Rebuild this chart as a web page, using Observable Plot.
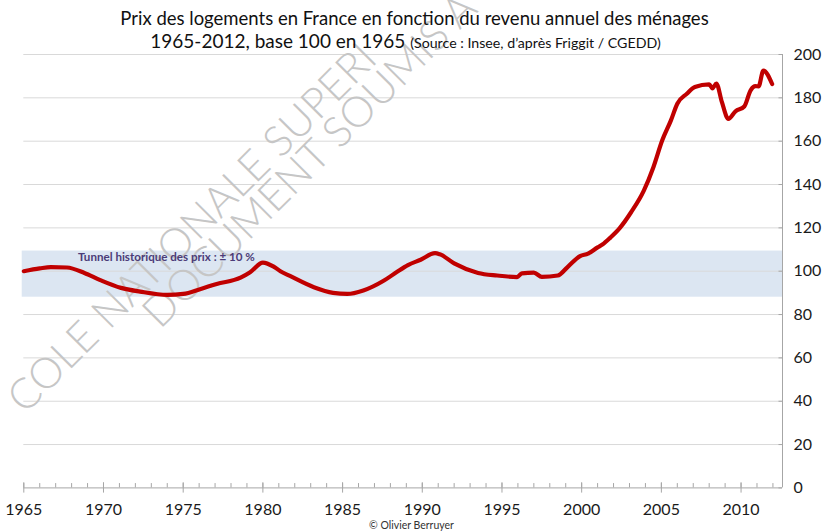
<!DOCTYPE html>
<html><head><meta charset="utf-8">
<script src="https://cdn.jsdelivr.net/npm/d3@7"></script>
<script src="https://cdn.jsdelivr.net/npm/@observablehq/plot@0.6"></script>
<style>
body{margin:0;background:#fff;}
#wrap{position:relative;width:823px;height:532px;overflow:hidden;font-family:Lato,"Open Sans",sans-serif;}
#title{position:absolute;left:0;top:0;width:823px;text-align:center;color:#111;z-index:2;pointer-events:none;}
#t1{position:absolute;top:6px;left:3px;width:100%;font-size:18.5px;line-height:24px;white-space:nowrap;}
#t2{position:absolute;top:29px;left:-6px;width:100%;font-size:19px;line-height:24px;white-space:nowrap;}
#t2 .src{font-size:14.2px;}
#chart{position:absolute;left:0;top:0;}
#caption{position:absolute;top:519.5px;left:0;width:823px;text-align:center;font-size:10.5px;line-height:11px;color:#333;z-index:2;}
</style></head>
<body>
<div id="wrap">
  <div id="chart"></div>
  <div id="title">
    <div id="t1">Prix des logements en France en fonction du revenu annuel des ménages</div>
    <div id="t2">1965-2012, base 100 en 1965 <span class="src">(Source : Insee, d’après Friggit / CGEDD)</span></div>
  </div>
  <div id="caption">© Olivier Berruyer</div>
</div>
<script>
// ---- data ----
const years = [1965.0, 1966.0, 1966.7, 1967.7, 1968.8, 1969.8, 1971.1, 1972.3, 1974.0, 1975.0,
  1976.1, 1977.1, 1978.6, 1979.2, 1980.0, 1980.7, 1981.1, 1981.7, 1983.2, 1984.4,
  1985.3, 1986.3, 1987.6, 1988.4, 1989.1, 1989.9, 1990.8, 1991.1, 1992.0, 1993.5,
  1994.7, 1995.95, 1996.25, 1997.0, 1997.5, 1998.5, 1999.1, 1999.9, 2000.4, 2001.0,
  2001.3, 2001.8, 2002.4, 2003.1, 2003.9, 2004.5, 2005.05, 2005.6, 2006.0, 2006.6,
  2007.1, 2008.0, 2008.2, 2008.45, 2008.8, 2009.2, 2009.65, 2010.2, 2010.6, 2010.9,
  2011.1, 2011.4, 2011.95];
const values = [100.0, 101.3, 101.9, 101.7, 99.2, 95.9, 92.3, 90.6, 89.1, 89.5,
  91.8, 94.1, 97.0, 99.5, 104.0, 102.0, 100.0, 97.8, 92.6, 90.0,
  89.5, 91.1, 95.7, 99.6, 102.8, 105.3, 108.3, 107.8, 103.6, 99.2,
  98.0, 97.3, 99.0, 99.3, 97.4, 98.0, 101.8, 107.0, 108.1, 111.0,
  112.3, 115.5, 120.0, 127.2, 137.2, 148.0, 160.3, 169.6, 177.3, 181.9,
  185.0, 186.2, 184.4, 186.6, 178.0, 170.3, 173.8, 176.0, 183.5, 185.4,
  185.3, 192.6, 186.4];
const bandRange = [88, 109.3];           // "tunnel" low / high
const bandYears = [1964.9, 2012.6];
const xDomain = [1965, 2012.6];
const yTicks = [0, 20, 40, 60, 80, 100, 120, 140, 160, 180, 200];
const majorYears = [1965, 1970, 1975, 1980, 1985, 1990, 1995, 2000, 2005, 2010];
const minorYears = d3.range(1965, 2013);
const bandLabel = [{year: 1968.4, value: 106.2, text: "Tunnel historique des prix : ± 10 %"}];
const watermarkLines = ["COLE NATIONALE SUPERI", "DOCUMENT SOUMIS A"];

const data = years.map((y, i) => ({year: y, value: values[i]}));
const band = [{x1: bandYears[0], x2: bandYears[1], lo: bandRange[0], hi: bandRange[1]}];

let wm1, wm2;
const watermark = () => {
  const g = d3.create("svg:g").attr("class", "watermark").attr("pointer-events", "none");
  const mk = s => g.append("text").attr("fill", "#c6c6c6").attr("font-weight", 300)
    .attr("text-anchor", "start").attr("font-family", "Lato, sans-serif").text(s).node();
  wm1 = mk(watermarkLines[0]);
  wm2 = mk(watermarkLines[1]);
  return g.node();
};

const axisColor = "#a6a6a6";
const chart = Plot.plot({
  width: 823, height: 532,
  marginLeft: 23.3, marginRight: 41, marginTop: 54, marginBottom: 44.6,
  x: {domain: xDomain, axis: null},
  y: {domain: [0, 200], axis: null},
  style: {fontFamily: "Lato, sans-serif", background: "transparent", overflow: "visible"},
  marks: [
    Plot.rect(band, {x1: "x1", x2: "x2", y1: "lo", y2: "hi", fill: "#dce6f2"}),
    Plot.ruleY(yTicks.filter(d => d > 0), {stroke: "#d9d9d9", strokeWidth: 1}),
    watermark,
    Plot.line(data, {x: "year", y: "value", stroke: "#c00000", strokeWidth: 4.2,
      curve: "monotone-x", strokeLinejoin: "round", strokeLinecap: "round"}),
    Plot.text(bandLabel, {x: "year", y: "value", text: "text", textAnchor: "start",
      fill: "#4b3c78", fontWeight: "bold", fontSize: 11.6}),
    Plot.ruleY([0], {stroke: axisColor}),
    Plot.ruleX([xDomain[1]], {y1: 0, y2: 200, stroke: axisColor}),
    Plot.ruleX(minorYears, {y1: 0, y2: 2, stroke: axisColor}),
    Plot.ruleX(majorYears, {y1: -2.4, y2: 2.4, stroke: axisColor}),
    Plot.ruleY(yTicks, {x1: xDomain[1] - 0.22, x2: xDomain[1], stroke: axisColor}),
    Plot.axisX(majorYears, {tickSize: 0, tickPadding: 16, tickFormat: d => String(d),
      fontSize: 16, fill: "#1a1a1a"}),
    Plot.axisY(yTicks, {anchor: "right", tickSize: 0, tickPadding: 11,
      fontSize: 16, fill: "#1a1a1a"})
  ]
});
document.getElementById("chart").append(chart);

// size & place the watermark (two rotated lines of light grey text)
(function placeWatermark() {
  if (!wm1 || !wm2) return;
  const base = 40, target = 490;
  wm1.setAttribute("font-size", base);
  let len;
  try { len = wm1.getSubStringLength(0, 20); }
  catch (e) { len = wm1.getComputedTextLength() * 20 / 21; }
  const fs = base * target / len;
  [wm1, wm2].forEach(t => t.setAttribute("font-size", fs));
  const p1 = [25, 415], p2 = [160, 330];
  [[wm1, p1], [wm2, p2]].forEach(([t, p]) => {
    t.setAttribute("x", p[0]); t.setAttribute("y", p[1]);
    t.setAttribute("transform", `rotate(-45 ${p[0]} ${p[1]})`);
  });
})();
</script>
</body></html>
